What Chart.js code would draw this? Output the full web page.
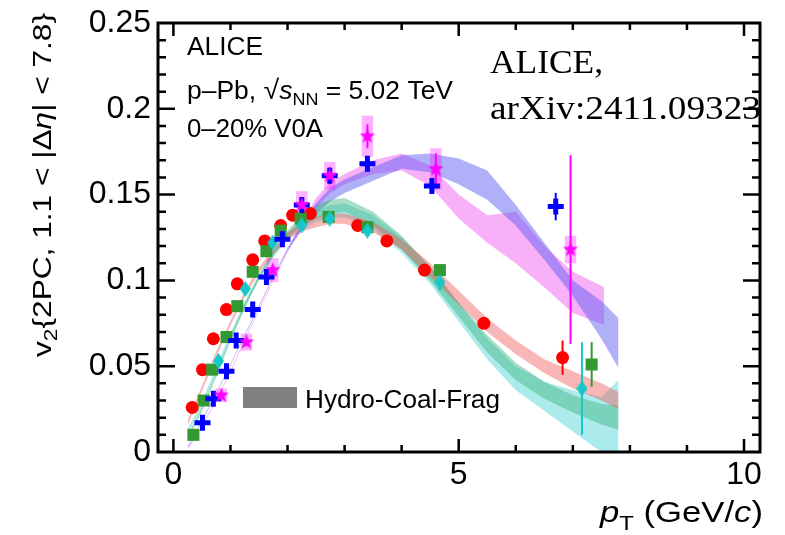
<!DOCTYPE html>
<html>
<head>
<meta charset="utf-8">
<script src="https://cdn.jsdelivr.net/npm/chart.js@4.4.0/dist/chart.umd.min.js"></script>
<style>
  html, body { margin: 0; padding: 0; background: #fff; }
</style>
</head>
<body>
<canvas id="myChart" width="785" height="535"></canvas>
<script>
// tick labels
const xTicks = [0, 5, 10];
const yTicks = [0, 0.05, 0.1, 0.15, 0.2, 0.25];

// data points (pT, v2, stat. error)
const pionPt = [0.33, 0.51, 0.70, 0.93, 1.12, 1.39, 1.60, 1.88, 2.09, 2.40, 3.23, 3.74, 4.40, 5.44, 6.82];
const pionV2 = [0.026, 0.048, 0.066, 0.083, 0.098, 0.112, 0.123, 0.132, 0.138, 0.139, 0.132, 0.123, 0.106, 0.075, 0.055];
const pionErr = [0.001, 0.001, 0.001, 0.001, 0.001, 0.001, 0.001, 0.001, 0.001, 0.001, 0.001, 0.002, 0.002, 0.003, 0.010];

const kaonPt = [0.35, 0.53, 0.68, 0.93, 1.12, 1.39, 1.63, 1.88, 2.23, 2.72, 3.40, 4.67, 7.33];
const kaonV2 = [0.010, 0.030, 0.048, 0.067, 0.085, 0.105, 0.117, 0.129, 0.136, 0.137, 0.131, 0.106, 0.051];
const kaonErr = [0.001, 0.001, 0.001, 0.001, 0.001, 0.001, 0.001, 0.001, 0.001, 0.002, 0.002, 0.003, 0.013];

const k0sPt = [0.79, 1.26, 1.74, 2.25, 2.74, 3.40, 4.67, 7.16];
const k0sV2 = [0.053, 0.095, 0.122, 0.132, 0.136, 0.129, 0.099, 0.037];
const k0sErr = [0.001, 0.001, 0.001, 0.001, 0.002, 0.002, 0.005, 0.027];

const protonPt = [0.51, 0.70, 0.93, 1.10, 1.39, 1.63, 1.91, 2.25, 2.74, 3.40, 4.53, 6.70];
const protonV2 = [0.017, 0.031, 0.047, 0.065, 0.083, 0.102, 0.124, 0.144, 0.161, 0.168, 0.155, 0.143];
const protonErr = [0.001, 0.001, 0.001, 0.001, 0.001, 0.001, 0.002, 0.002, 0.003, 0.003, 0.004, 0.008];

const lambdaPt = [0.84, 1.28, 1.74, 2.25, 2.74, 3.40, 4.60, 6.96];
const lambdaV2 = [0.033, 0.064, 0.106, 0.144, 0.161, 0.184, 0.165, 0.118];
const lambdaErr = [0.001, 0.002, 0.002, 0.003, 0.005, 0.007, 0.009, 0.055];
const lambdaSys = [0.004, 0.005, 0.007, 0.008, 0.008, 0.012, 0.012, 0.008];

// Hydro-Coal-Frag bands (lower / upper edge)
const bandPt = [0.25, 0.5, 0.75, 1.0, 1.25, 1.5, 1.75, 2.0, 2.25, 2.5, 2.75, 3.0, 3.5, 4.0, 4.5, 5.0, 5.5, 6.0, 6.5, 7.0, 7.5, 7.8];
const pionLo = [0.0155, 0.0355, 0.0555, 0.0735, 0.0905, 0.1045, 0.1155, 0.124, 0.1285, 0.131, 0.133, 0.133, 0.128, 0.118, 0.102, 0.086, 0.070, 0.057, 0.046, 0.037, 0.030, 0.025];
const pionHi = [0.0185, 0.0385, 0.0585, 0.0765, 0.0935, 0.1075, 0.1185, 0.128, 0.1335, 0.137, 0.139, 0.139, 0.134, 0.124, 0.110, 0.094, 0.078, 0.065, 0.054, 0.047, 0.040, 0.035];
const kaonLo = [0.0065, 0.0235, 0.0435, 0.0645, 0.0835, 0.1005, 0.1145, 0.125, 0.132, 0.136, 0.139, 0.140, 0.132, 0.118, 0.100, 0.079, 0.058, 0.042, 0.031, 0.023, 0.016, 0.013];
const kaonHi = [0.0095, 0.0265, 0.0465, 0.0675, 0.0865, 0.1035, 0.1175, 0.129, 0.138, 0.144, 0.147, 0.148, 0.140, 0.126, 0.108, 0.087, 0.068, 0.052, 0.041, 0.033, 0.028, 0.027];
const k0sLo = [0.0105, 0.0265, 0.0465, 0.0665, 0.0845, 0.1005, 0.1135, 0.1235, 0.130, 0.134, 0.136, 0.137, 0.130, 0.116, 0.098, 0.076, 0.054, 0.036, 0.024, 0.012, 0.000, 0.000];
const k0sHi = [0.0135, 0.0295, 0.0495, 0.0695, 0.0875, 0.1035, 0.1165, 0.1275, 0.136, 0.141, 0.144, 0.145, 0.138, 0.125, 0.108, 0.087, 0.066, 0.050, 0.041, 0.036, 0.032, 0.042];
const protonLo = [0.0025, 0.0175, 0.0335, 0.0505, 0.0675, 0.0845, 0.1015, 0.1175, 0.129, 0.139, 0.146, 0.151, 0.158, 0.165, 0.163, 0.156, 0.147, 0.132, 0.112, 0.091, 0.066, 0.049];
const protonHi = [0.0035, 0.0185, 0.0345, 0.0515, 0.0685, 0.0855, 0.1025, 0.1190, 0.133, 0.145, 0.154, 0.159, 0.166, 0.173, 0.174, 0.171, 0.164, 0.144, 0.122, 0.100, 0.088, 0.078];
const lambdaBandPt = [0.25, 0.5, 0.75, 1.0, 1.25, 1.5, 1.75, 2.0, 2.25, 2.5, 2.75, 3.0, 3.5, 4.0, 4.5, 5.0, 5.5, 6.0, 6.5, 7.0, 7.55];
const lambdaLo = [0.0015, 0.0145, 0.0295, 0.0465, 0.0645, 0.0825, 0.0995, 0.1162, 0.1305, 0.142, 0.151, 0.156, 0.162, 0.164, 0.155, 0.136, 0.122, 0.110, 0.096, 0.081, 0.074];
const lambdaHi = [0.0025, 0.0155, 0.0305, 0.0475, 0.0655, 0.0835, 0.1005, 0.1178, 0.1335, 0.148, 0.157, 0.162, 0.170, 0.174, 0.167, 0.150, 0.138, 0.140, 0.120, 0.105, 0.096];

const SANS = '"Liberation Sans", Arial, Helvetica, sans-serif';
const SERIF = '"Liberation Serif", "Times New Roman", serif';

const RED = "#ff0000";
const GREEN = "#339933";
const CYAN = "#16c8c8";
const BLUE = "#0000ff";
const MAGENTA = "#ff00ff";

function pts(xs, ys) {
  return xs.map((x, i) => ({ x: x, y: ys[i] }));
}

// filled star marker
function starMarker(r, color) {
  const c = document.createElement("canvas");
  c.width = c.height = 2 * r + 2;
  const g = c.getContext("2d");
  g.fillStyle = color;
  g.beginPath();
  for (let i = 0; i < 10; i++) {
    const a = -Math.PI / 2 + (i * Math.PI) / 5;
    const rr = i % 2 ? r * 0.42 : r;
    g.lineTo(r + 1 + rr * Math.cos(a), r + 1 + rr * Math.sin(a));
  }
  g.closePath();
  g.fill();
  return c;
}

// tall diamond marker
function diamondMarker(w, h, color) {
  const c = document.createElement("canvas");
  c.width = w;
  c.height = h;
  const g = c.getContext("2d");
  g.fillStyle = color;
  g.beginPath();
  g.moveTo(w / 2, 0);
  g.lineTo(w, h / 2);
  g.lineTo(w / 2, h);
  g.lineTo(0, h / 2);
  g.closePath();
  g.fill();
  return c;
}

function band(xs, lo, hi, color) {
  const base = {
    type: "line",
    pointRadius: 0,
    borderWidth: 0,
    borderColor: "rgba(0,0,0,0)",
    tension: 0,
    order: 1,
  };
  return [
    Object.assign({}, base, { data: pts(xs, lo), fill: false }),
    Object.assign({}, base, { data: pts(xs, hi), fill: "-1", backgroundColor: color }),
  ];
}

// error bars, drawn through the scales
const errorSets = [
  { xs: pionPt, ys: pionV2, err: pionErr, color: RED },
  { xs: kaonPt, ys: kaonV2, err: kaonErr, color: GREEN },
  { xs: k0sPt, ys: k0sV2, err: k0sErr, color: CYAN },
  { xs: protonPt, ys: protonV2, err: protonErr, color: BLUE },
  { xs: lambdaPt, ys: lambdaV2, err: lambdaErr, color: MAGENTA },
];

function drawParts(ctx, parts, o) {
  ctx.save();
  const widths = parts.map((p) => {
    ctx.font = (p.it ? "italic " : "") + p.s + "px " + (p.f || SANS);
    return ctx.measureText(p.t).width;
  });
  const total = widths.reduce((a, b) => a + b, 0);
  const k = o.width ? o.width / total : 1;
  ctx.translate(o.x, o.y);
  if (o.rot) ctx.rotate(o.rot);
  if (o.align === "right") ctx.translate(-total * k, 0);
  if (o.align === "center") ctx.translate((-total * k) / 2, 0);
  ctx.scale(k, 1);
  ctx.fillStyle = "#000";
  ctx.textAlign = "left";
  ctx.textBaseline = "alphabetic";
  let x = 0;
  parts.forEach((p, i) => {
    ctx.font = (p.it ? "italic " : "") + p.s + "px " + (p.f || SANS);
    ctx.fillText(p.t, x, p.dy || 0);
    x += widths[i];
  });
  ctx.restore();
}

const decor = {
  id: "decor",
  beforeDraw(chart) {
    chart.$marksDone = false;
  },
  beforeDatasetDraw(chart, args) {
    const ds = chart.data.datasets[args.index];
    if (!ds.isPoint || chart.$marksDone) return;
    chart.$marksDone = true;
    const ctx = chart.ctx;
    const xs = chart.scales.x;
    const ys = chart.scales.y;
    ctx.save();
    // syst. boxes
    ctx.fillStyle = "rgba(255,0,255,0.3)";
    lambdaPt.forEach((x, i) => {
      const x0 = xs.getPixelForValue(x - 0.1);
      const x1 = xs.getPixelForValue(x + 0.1);
      const y0 = ys.getPixelForValue(lambdaV2[i] + lambdaSys[i]);
      const y1 = ys.getPixelForValue(lambdaV2[i] - lambdaSys[i]);
      ctx.fillRect(x0, y0, x1 - x0, y1 - y0);
    });
    // stat. errors
    ctx.lineWidth = 2;
    errorSets.forEach((s) => {
      ctx.strokeStyle = s.color;
      s.xs.forEach((x, i) => {
        const px = xs.getPixelForValue(x);
        ctx.beginPath();
        ctx.moveTo(px, ys.getPixelForValue(s.ys[i] - s.err[i]));
        ctx.lineTo(px, ys.getPixelForValue(s.ys[i] + s.err[i]));
        ctx.stroke();
      });
    });
    ctx.restore();
  },
  afterDatasetsDraw(chart) {
    const ctx = chart.ctx;
    const { left, right, top, bottom } = chart.chartArea;
    const xs = chart.scales.x;
    const ys = chart.scales.y;

    // texts
    drawParts(ctx, [{ t: "ALICE", s: 25 }], { x: 187, y: 55, width: 76 });
    drawParts(
      ctx,
      [
        { t: "p\u2013Pb, ", s: 25 },
        { t: "\u221A", s: 27 },
        { t: "s", s: 25, it: true },
        { t: "NN", s: 17, dy: 6 },
        { t: " = 5.02 TeV", s: 25 },
      ],
      { x: 187, y: 99, width: 266 }
    );
    drawParts(ctx, [{ t: "0\u201320% V0A", s: 25 }], { x: 187, y: 137, width: 136 });
    drawParts(ctx, [{ t: "ALICE,", s: 34, f: SERIF }], { x: 490, y: 73, width: 113 });
    drawParts(ctx, [{ t: "arXiv:2411.09323", s: 34, f: SERIF }], { x: 490, y: 119, width: 271 });

    // legend
    ctx.save();
    ctx.fillStyle = "#808080";
    ctx.fillRect(243, 387, 54, 21);
    ctx.restore();
    drawParts(ctx, [{ t: "Hydro-Coal-Frag", s: 26 }], { x: 305, y: 408, width: 195 });

    // frame and inward ticks
    ctx.save();
    ctx.strokeStyle = "#000";
    ctx.lineWidth = 3;
    ctx.strokeRect(left, top, right - left, bottom - top);
    ctx.beginPath();
    for (let v = 0; v <= 10; v++) {
      const px = xs.getPixelForValue(v);
      const len = v % 5 === 0 ? 13 : 7;
      ctx.moveTo(px, bottom);
      ctx.lineTo(px, bottom - len);
      ctx.moveTo(px, top);
      ctx.lineTo(px, top + len);
    }
    for (let i = 1; i < 25; i++) {
      const py = ys.getPixelForValue(i / 100);
      const len = i % 5 === 0 ? 17 : 8;
      ctx.moveTo(left, py);
      ctx.lineTo(left + len, py);
      ctx.moveTo(right, py);
      ctx.lineTo(right - len, py);
    }
    ctx.lineWidth = 2.5;
    ctx.stroke();
    ctx.restore();

    // axis titles
    drawParts(
      ctx,
      [
        { t: "v", s: 25 },
        { t: "2", s: 18, dy: 6 },
        { t: "{2PC, 1.1 < |\u0394", s: 25 },
        { t: "\u03B7", s: 25, it: true },
        { t: "| < 7.8}", s: 25 },
      ],
      { x: 51, y: 185, rot: -Math.PI / 2, align: "center", width: 344 }
    );
    drawParts(
      ctx,
      [
        { t: "p", s: 29, it: true },
        { t: "T", s: 20, dy: 8 },
        { t: " (GeV/", s: 29 },
        { t: "c", s: 29, it: true },
        { t: ")", s: 29 },
      ],
      { x: 763, y: 522, align: "right", width: 163 }
    );
  },
};

const datasets = [
  {
    isPoint: true,
    data: pts(lambdaPt, lambdaV2),
    pointStyle: starMarker(8, MAGENTA),
    order: 0,
  },
  {
    isPoint: true,
    data: pts(protonPt, protonV2),
    pointStyle: "cross",
    pointRadius: 8,
    borderWidth: 5,
    borderColor: BLUE,
    order: 0,
  },
  {
    isPoint: true,
    data: pts(k0sPt, k0sV2),
    pointStyle: diamondMarker(11, 16, CYAN),
    order: 0,
  },
  {
    isPoint: true,
    data: pts(kaonPt, kaonV2),
    pointStyle: "rect",
    pointRadius: 8.5,
    borderWidth: 0,
    backgroundColor: GREEN,
    order: 0,
  },
  {
    isPoint: true,
    data: pts(pionPt, pionV2),
    pointStyle: "circle",
    pointRadius: 6.5,
    borderWidth: 0,
    backgroundColor: RED,
    order: 0,
  },
  ...band(bandPt, pionLo, pionHi, "rgba(240,80,80,0.42)"),
  ...band(bandPt, kaonLo, kaonHi, "rgba(50,175,115,0.42)"),
  ...band(bandPt, k0sLo, k0sHi, "rgba(70,210,210,0.45)"),
  ...band(bandPt, protonLo, protonHi, "rgba(90,90,240,0.48)"),
  ...band(lambdaBandPt, lambdaLo, lambdaHi, "rgba(240,90,240,0.48)"),
];

const ctx = document.getElementById("myChart").getContext("2d");
new Chart(ctx, {
  type: "scatter",
  data: { datasets: datasets },
  options: {
    responsive: false,
    animation: false,
    events: [],
    layout: { padding: { left: 0, right: 25, top: 16, bottom: 0 } },
    plugins: {
      legend: { display: false },
      tooltip: { enabled: false },
    },
    scales: {
      x: {
        type: "linear",
        min: -0.27,
        max: 10.28,
        afterBuildTicks: (scale) => {
          scale.ticks = xTicks.map((v) => ({ value: v }));
        },
        afterFit: (scale) => {
          scale.height = 83;
        },
        ticks: {
          autoSkip: false,
          maxRotation: 0,
          padding: 7,
          color: "#000",
          font: { family: SANS, size: 32, lineHeight: 1 },
          callback: (v) => String(v),
        },
        grid: { display: false, drawTicks: false },
        border: { display: false },
      },
      y: {
        type: "linear",
        min: 0,
        max: 0.25,
        afterBuildTicks: (scale) => {
          scale.ticks = yTicks.map((v) => ({ value: v }));
        },
        afterFit: (scale) => {
          scale.width = 158;
        },
        ticks: {
          autoSkip: false,
          padding: 7,
          color: "#000",
          font: { family: SANS, size: 32, lineHeight: 1 },
          callback: (v) => String(v),
        },
        grid: { display: false, drawTicks: false },
        border: { display: false },
      },
    },
  },
  plugins: [decor],
});
</script>
</body>
</html>
